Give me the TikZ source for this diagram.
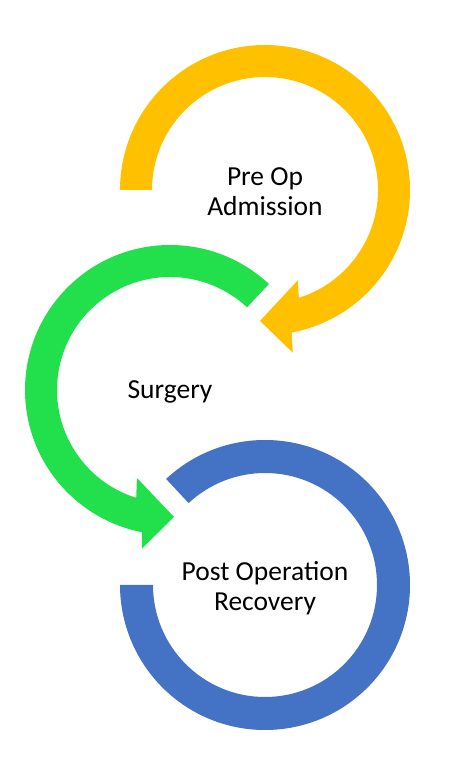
\documentclass[tikz,border=0pt]{standalone}
\usepackage{fontspec}
\setmainfont{Carlito}
\usepackage{tikz}
\usetikzlibrary{positioning}
\definecolor{stepgold}{HTML}{FFC000}
\definecolor{stepgreen}{HTML}{22E04C}
\definecolor{stepblue}{HTML}{4472C4}

\begin{document}
\begin{tikzpicture}[
  x=1pt, y=1pt,
  ring/.style={draw=none},
  goldring/.style={ring, fill=stepgold},
  greenring/.style={ring, fill=stepgreen},
  bluering/.style={ring, fill=stepblue},
  steplabel/.style={font=\fontsize{27.5}{30}\selectfont, align=center, text=black, inner sep=0pt}
]
  \useasboundingbox (0,0) rectangle (467,768);

  % --- Step 1: Pre Op (gold ring, arrow at bottom) ---
  \begin{scope}[shift={(265,578)}]
    \fill[goldring] (180:113) -- (180:145)
      arc[start angle=180, end angle=-79.4, radius=145]
      -- (-80.3:165) -- (-92.2:131) -- (-69.9:96) -- (-72.6:113)
      arc[start angle=-72.6, end angle=180, radius=113] -- cycle;
    \node[steplabel] (preop) at (0,-2) {Pre Op\\Admission};
  \end{scope}

  % --- Step 2: Surgery (green ring, arrow at bottom) ---
  \begin{scope}[shift={(170,378)}]
    \fill[greenring] (47:113) -- (47:145)
      arc[start angle=47, end angle=258.8, radius=145]
      -- (260:161) -- (271.8:127) -- (249.4:94) -- (252.6:113)
      arc[start angle=252.6, end angle=47, radius=113] -- cycle;
    \node[steplabel] (surgery) at (0,-2) {Surgery};
  \end{scope}

  % --- Step 3: Post Operation (blue ring, no arrow) ---
  \begin{scope}[shift={(265,183)}]
    \fill[bluering] (133:112) -- (133:145)
      arc[start angle=133, end angle=-180, radius=145]
      -- (180:112)
      arc[start angle=-180, end angle=133, radius=112] -- cycle;
    \node[steplabel] (postop) at (0,-3) {Post Operation\\Recovery};
  \end{scope}
\end{tikzpicture}
\end{document}
